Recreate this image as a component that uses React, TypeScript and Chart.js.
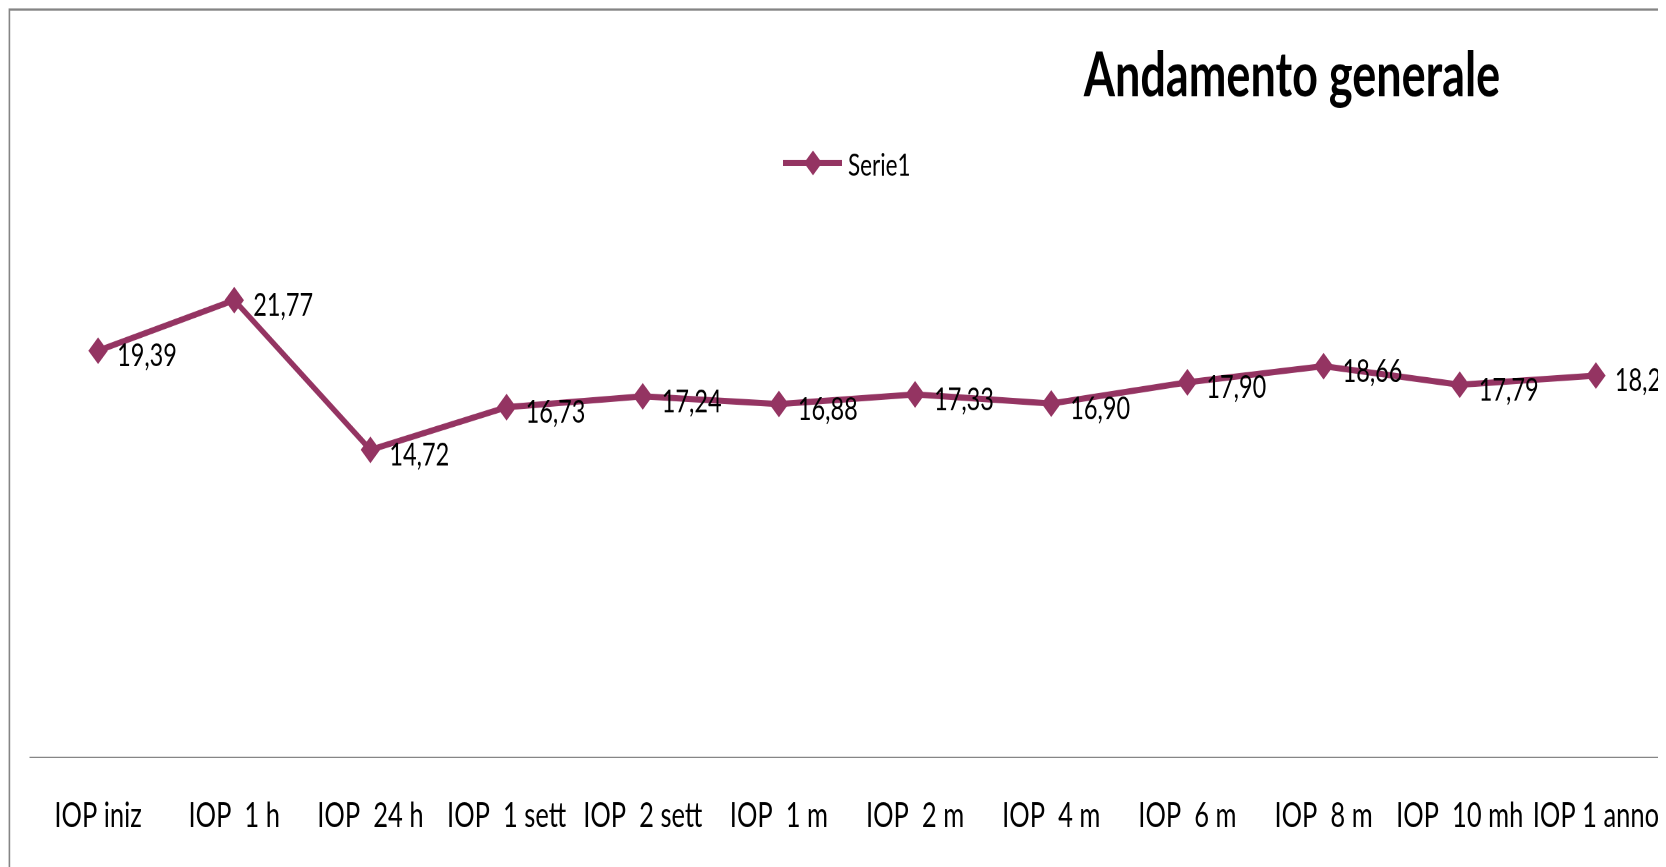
import React, { useEffect, useRef } from 'react';
import { Chart, registerables } from 'chart.js';

Chart.register(...registerables);

const categories = ['IOP iniz', 'IOP  1 h', 'IOP  24 h', 'IOP  1 sett', 'IOP  2 sett', 'IOP  1 m', 'IOP  2 m', 'IOP  4 m', 'IOP  6 m', 'IOP  8 m', 'IOP  10 mh', 'IOP 1 anno'];
const serie1 = [19.39, 21.77, 14.72, 16.73, 17.24, 16.88, 17.33, 16.9, 17.9, 18.66, 17.79, 18.22];
const seriesName = 'Serie1';
const chartTitle = 'Andamento generale';

const S = 1.38; // vertical stretch of the original picture
const VIEW_W = 1658;
const W = 1666;
const H = 623;
const COLOR = '#943462';
const FONT = "Lato, 'Liberation Sans', sans-serif";

const fmt = (v: number) => v.toFixed(2).replace('.', ',');

const decorPlugin = {
  id: 'decor',
  afterDatasetsDraw(chart: any) {
    const ctx = chart.ctx;
    const meta = chart.getDatasetMeta(0);
    ctx.save();
    ctx.fillStyle = '#000';
    ctx.font = `23.5px ${FONT}`;
    ctx.textAlign = 'left';
    ctx.textBaseline = 'alphabetic';
    meta.data.forEach((pt: any, i: number) => {
      ctx.fillText(fmt(serie1[i]), pt.x + 19, pt.y + 11.4);
    });
    ctx.restore();
  },
  afterDraw(chart: any) {
    const ctx = chart.ctx;
    ctx.save();
    // frame (top and left edges visible)
    ctx.strokeStyle = '#858585';
    ctx.lineWidth = 1.6;
    ctx.beginPath();
    ctx.moveTo(1.4, H + 5);
    ctx.lineTo(1.4, 1.1);
    ctx.lineTo(W + 5, 1.1);
    ctx.stroke();
    // title
    ctx.fillStyle = '#000';
    ctx.font = `bold 45px ${FONT}`;
    ctx.textAlign = 'center';
    ctx.textBaseline = 'alphabetic';
    ctx.fillText(chartTitle, 1284, 63.8);
    // legend
    ctx.strokeStyle = COLOR;
    ctx.lineWidth = 4.5;
    ctx.beginPath();
    ctx.moveTo(775, 112.3);
    ctx.lineTo(834, 112.3);
    ctx.stroke();
    ctx.fillStyle = COLOR;
    const r = 9;
    ctx.beginPath();
    ctx.moveTo(805 - r, 112.3);
    ctx.lineTo(805, 112.3 - r);
    ctx.lineTo(805 + r, 112.3);
    ctx.lineTo(805, 112.3 + r);
    ctx.closePath();
    ctx.fill();
    ctx.fillStyle = '#000';
    ctx.font = `22.5px ${FONT}`;
    ctx.textAlign = 'left';
    ctx.fillText(seriesName, 840, 121.7);
    ctx.restore();
  },
};

export default function App() {
  const ref = useRef<HTMLCanvasElement>(null);
  useEffect(() => {
    if (!ref.current) return;
    const chart = new Chart(ref.current, {
      type: 'line',
      data: {
        labels: categories,
        datasets: [
          {
            label: seriesName,
            data: serie1,
            borderColor: COLOR,
            backgroundColor: COLOR,
            borderWidth: 4.5,
            pointStyle: 'rectRot',
            pointRadius: 9,
            pointBorderWidth: 1,
            pointBorderColor: COLOR,
            pointBackgroundColor: COLOR,
            tension: 0,
            fill: false,
            clip: false,
          },
        ],
      },
      options: {
        responsive: false,
        animation: false,
        devicePixelRatio: 2,
        layout: { padding: { top: 162.03, left: 22, right: 3, bottom: 0 } },
        plugins: {
          legend: { display: false },
          title: { display: false },
          tooltip: { enabled: false },
        },
        scales: {
          x: {
            offset: true,
            grid: { display: false, drawTicks: false, tickLength: 0, offset: true },
            border: { display: true, color: '#868686', width: 1 },
            ticks: {
              color: '#000',
              font: { family: FONT, size: 25.5 },
              padding: 27,
              maxRotation: 0,
              autoSkip: false,
            },
            afterFit: (s: any) => {
              s.height = 80.25;
              s.paddingLeft = 0;
              s.paddingRight = 0;
            },
          },
          y: { display: false, min: 0.25, max: 25 },
        },
      },
      plugins: [decorPlugin],
    });
    return () => chart.destroy();
  }, []);
  return (
    <div style={{ width: VIEW_W, height: 859, overflow: 'hidden' }}>
      <div style={{ width: W, height: H, transform: `scaleY(${S})`, transformOrigin: '0 0' }}>
        <canvas ref={ref} width={W} height={H} style={{ display: 'block' }} />
      </div>
    </div>
  );
}
